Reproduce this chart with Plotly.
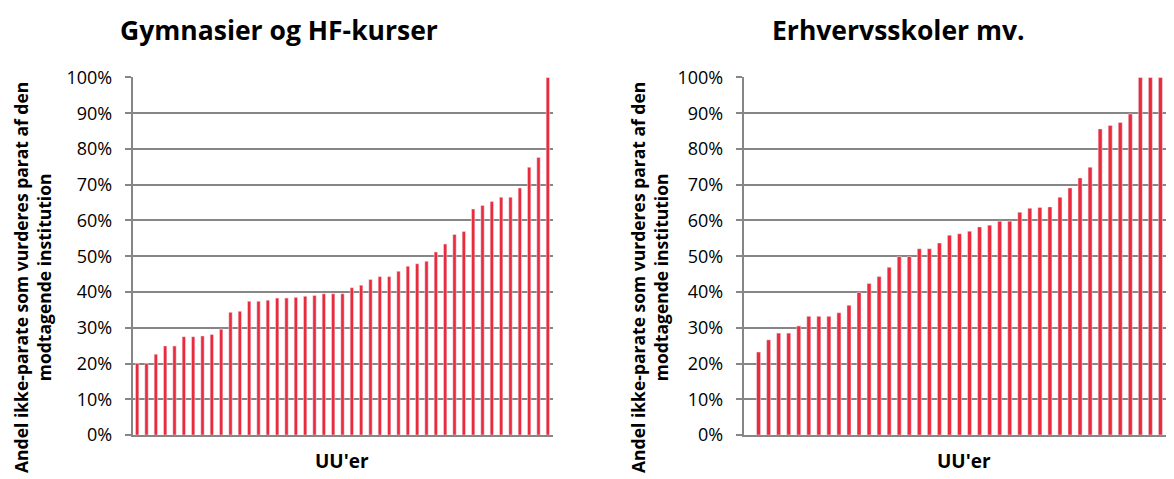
import plotly.graph_objects as go

# ---- data ----
gym_values = [20.0, 20.0, 22.6, 24.9, 24.9, 27.5, 27.5, 27.7, 28.1, 29.6,
              34.3, 34.6, 37.4, 37.4, 37.7, 38.3, 38.3, 38.5, 38.8, 39.0,
              39.5, 39.5, 39.5, 41.2, 41.9, 43.5, 44.3, 44.3, 45.8, 47.2,
              47.9, 48.6, 51.2, 53.4, 56.1, 56.9, 63.2, 64.2, 65.3, 66.5,
              66.5, 69.1, 74.9, 77.6, 100.0]
erh_values = [23.2, 26.6, 28.5, 28.5, 30.5, 33.2, 33.2, 33.2, 34.2, 36.3,
              39.9, 42.4, 44.3, 46.9, 49.9, 49.9, 52.1, 52.1, 53.7, 55.9,
              56.3, 57.0, 58.2, 58.7, 59.8, 59.8, 62.3, 63.4, 63.6, 63.8,
              66.5, 69.1, 71.9, 74.9, 85.6, 86.6, 87.4, 89.8, 100.0, 100.0,
              100.0, 100.0]
gym_x = list(range(len(gym_values)))
erh_x = list(range(1, len(erh_values) + 1))
y_ticks = [0, 10, 20, 30, 40, 50, 60, 70, 80, 90, 100]
y_ticktext = [f"{v}%" for v in y_ticks]
titles = ["Gymnasier og HF-kurser", "Erhvervsskoler mv."]
y_title = "Andel ikke-parate som vurderes parat af den<br>modtagende institution"
x_title = "UU'er"

W, H = 1174, 479
OFF = 8  # page body margin
BAR = "#EA2B3C"
GRID = "#868686"
FONT = "Open Sans"

def px(x):
    return (x - OFF) / W

def py(y):
    return 1 - (y - OFF) / H

fig = go.Figure()
fig.add_trace(go.Bar(x=gym_x, y=gym_values, marker_color=BAR, width=0.36,
                     xaxis="x", yaxis="y", showlegend=False))
fig.add_trace(go.Bar(x=erh_x, y=erh_values, marker_color=BAR, width=0.4,
                     xaxis="x2", yaxis="y2", showlegend=False))

ydom = [py(435), py(77.3)]
common_y = dict(range=[0, 100.05], tickvals=y_ticks, ticktext=y_ticktext,
                showgrid=True, gridcolor=GRID, gridwidth=1.5,
                showline=True, linecolor=GRID, linewidth=1.5,
                ticks="outside", ticklen=6, tickcolor=GRID, tickwidth=1.5,
                ticklabelstandoff=9, zeroline=False, automargin=False,
                tickfont=dict(family=FONT, size=18, color="#000"),
                domain=ydom, fixedrange=True)
common_x = dict(showticklabels=False, ticks="", showgrid=False, zeroline=False,
                showline=True, linecolor=GRID, linewidth=1.5, fixedrange=True,
                automargin=False)

fig.update_layout(
    width=W, height=H,
    margin=dict(l=0, r=0, t=0, b=0, pad=0, autoexpand=False),
    paper_bgcolor="white", plot_bgcolor="white",
    xaxis=dict(domain=[px(132.5), px(552.5)], range=[-0.5, len(gym_values) - 0.5],
               anchor="y", **common_x),
    yaxis=dict(anchor="x", **common_y),
    xaxis2=dict(domain=[px(743.5), px(1175.5)], range=[-0.5, len(erh_values) + 0.5],
                anchor="y2", **common_x),
    yaxis2=dict(anchor="x2", **common_y),
    bargap=0.6,
)

for xc, t in zip((279, 898), titles):
    fig.add_annotation(text=f"<b>{t}</b>", x=px(xc), y=py(30),
                       xref="paper", yref="paper", xanchor="center", yanchor="middle",
                       showarrow=False, font=dict(family=FONT, size=26.5, color="#000"))

for xc in (32, 649):
    fig.add_annotation(text=f"<b>{y_title}</b>", x=px(xc), y=py(278),
                       xref="paper", yref="paper", xanchor="center", yanchor="middle",
                       textangle=-90, showarrow=False,
                       font=dict(family=FONT, size=17.5, color="#000"))
for xc in (342, 964):
    fig.add_annotation(text=f"<b>{x_title}</b>", x=px(xc), y=py(461),
                       xref="paper", yref="paper", xanchor="center", yanchor="middle",
                       showarrow=False, font=dict(family=FONT, size=19, color="#000"))

fig.write_html("out.html")
